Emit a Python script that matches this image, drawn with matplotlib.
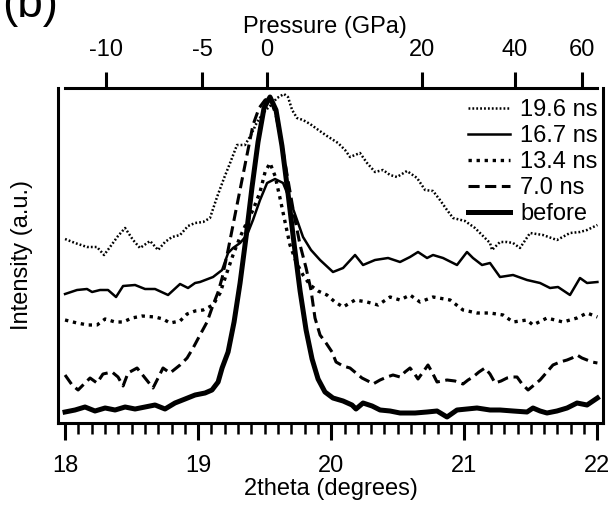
import matplotlib
matplotlib.use("Agg")
import matplotlib.pyplot as plt
from matplotlib.ticker import MultipleLocator, FixedLocator, NullLocator

plt.rcParams['font.family'] = ['Liberation Sans', 'DejaVu Sans']
plt.rcParams['font.size'] = 17
plt.rcParams['lines.scale_dashes'] = False

# ---- data (2theta in degrees, intensity in arbitrary units) ----
tt_before = [18.000, 18.075, 18.150, 18.225, 18.301, 18.376, 18.451, 18.526, 18.601, 18.676,
             18.751, 18.826, 18.902, 18.977, 19.052, 19.104, 19.150, 19.180, 19.225, 19.270,
             19.315, 19.360, 19.405, 19.450, 19.495, 19.540, 19.585, 19.630, 19.675, 19.721,
             19.766, 19.811, 19.856, 19.901, 19.953, 20.013, 20.089, 20.156, 20.186, 20.239,
             20.307, 20.367, 20.442, 20.517, 20.630, 20.720, 20.795, 20.870, 20.945, 21.020,
             21.095, 21.193, 21.268, 21.366, 21.471, 21.516, 21.569, 21.621, 21.696, 21.772,
             21.847, 21.922, 22.000]
int_before = [11, 13, 16, 12, 15, 13, 16, 14, 16, 18,
              14, 20, 24, 28, 30, 33, 41, 55, 71, 101,
              140, 186, 236, 281, 315, 326, 313, 277, 230, 179,
              132, 93, 64, 44, 31, 25, 22, 18, 14, 20,
              17, 13, 12, 10, 10, 11, 12, 6, 13, 14,
              15, 13, 13, 12, 11, 15, 12, 10, 12, 15,
              20, 18, 25]

tt_7ns = [18.000, 18.053, 18.098, 18.150, 18.188, 18.240, 18.285, 18.353, 18.398, 18.436,
          18.473, 18.541, 18.601, 18.661, 18.699, 18.736, 18.789, 18.864, 18.917, 18.962,
          19.014, 19.067, 19.112, 19.150, 19.180, 19.225, 19.277, 19.322, 19.367, 19.412,
          19.458, 19.503, 19.540, 19.585, 19.630, 19.675, 19.721, 19.766, 19.811, 19.848,
          19.878, 19.916, 19.961, 20.006, 20.036, 20.089, 20.141, 20.186, 20.231, 20.276,
          20.314, 20.367, 20.419, 20.464, 20.517, 20.554, 20.592, 20.622, 20.652, 20.690,
          20.727, 20.757, 20.795, 20.832, 20.870, 20.930, 20.990, 21.028, 21.065, 21.110,
          21.155, 21.193, 21.231, 21.276, 21.321, 21.358, 21.396, 21.434, 21.479, 21.524,
          21.569, 21.621, 21.666, 21.719, 21.772, 21.809, 21.847, 21.884, 21.922, 21.959,
          22.000]
int_7ns = [48, 38, 33, 40, 45, 40, 49, 51, 46, 37,
           50, 55, 45, 35, 45, 55, 50, 58, 65, 75,
           88, 101, 118, 131, 145, 173, 208, 238, 268, 298,
           315, 323, 325, 308, 278, 243, 208, 178, 155, 133,
           105, 88, 80, 71, 61, 57, 55, 50, 45, 42,
           39, 43, 46, 48, 46, 51, 55, 50, 44, 51,
           58, 51, 41, 42, 43, 42, 39, 43, 46, 51,
           55, 49, 40, 42, 45, 46, 46, 39, 33, 38,
           43, 51, 58, 61, 63, 65, 68, 65, 63, 61,
           60]

tt_13ns = [18.000, 18.090, 18.173, 18.240, 18.301, 18.376, 18.436, 18.503, 18.579, 18.676,
           18.736, 18.789, 18.864, 18.917, 18.977, 19.037, 19.112, 19.165, 19.210, 19.262,
           19.315, 19.367, 19.412, 19.465, 19.503, 19.540, 19.578, 19.615, 19.653, 19.690,
           19.736, 19.788, 19.841, 19.901, 19.968, 20.028, 20.089, 20.179, 20.269, 20.352,
           20.442, 20.517, 20.592, 20.667, 20.765, 20.893, 20.990, 21.095, 21.193, 21.291,
           21.366, 21.471, 21.516, 21.621, 21.741, 21.847, 21.922, 22.000]
int_13ns = [103, 100, 98, 98, 104, 101, 101, 105, 107, 106,
            104, 100, 102, 109, 112, 113, 118, 130, 148, 168,
            186, 201, 213, 231, 251, 260, 247, 225, 201, 178,
            161, 148, 138, 132, 128, 121, 116, 123, 121, 118,
            126, 123, 128, 121, 126, 123, 113, 110, 110, 108,
            101, 103, 98, 105, 101, 105, 110, 106]

tt_16ns = [18.000, 18.090, 18.165, 18.203, 18.263, 18.323, 18.383, 18.436, 18.526, 18.601,
           18.676, 18.774, 18.864, 18.924, 18.977, 19.014, 19.112, 19.180, 19.225, 19.262,
           19.315, 19.367, 19.412, 19.465, 19.518, 19.578, 19.638, 19.690, 19.743, 19.788,
           19.848, 19.916, 20.013, 20.089, 20.179, 20.239, 20.329, 20.427, 20.517, 20.592,
           20.652, 20.720, 20.765, 20.840, 20.945, 21.020, 21.065, 21.133, 21.193, 21.268,
           21.366, 21.471, 21.569, 21.644, 21.704, 21.794, 21.869, 21.922, 22.000]
int_16ns = [129, 133, 134, 131, 133, 133, 126, 137, 138, 134,
            134, 128, 139, 135, 140, 141, 146, 153, 170, 175,
            180, 188, 203, 223, 240, 244, 240, 223, 203, 186,
            173, 163, 151, 155, 168, 158, 163, 165, 161, 166,
            171, 165, 168, 165, 158, 171, 165, 158, 160, 146,
            148, 143, 140, 135, 136, 128, 145, 140, 141]

tt_19ns = [18.000, 18.075, 18.165, 18.240, 18.293, 18.338, 18.398, 18.451, 18.511, 18.563,
           18.639, 18.699, 18.751, 18.804, 18.864, 18.924, 18.977, 19.037, 19.089, 19.142,
           19.195, 19.240, 19.292, 19.352, 19.397, 19.443, 19.495, 19.540, 19.593, 19.645,
           19.675, 19.706, 19.743, 19.788, 19.841, 19.893, 19.968, 20.051, 20.104, 20.141,
           20.216, 20.269, 20.329, 20.389, 20.442, 20.494, 20.569, 20.645, 20.705, 20.765,
           20.817, 20.870, 20.915, 21.005, 21.080, 21.133, 21.193, 21.208, 21.268, 21.321,
           21.366, 21.418, 21.494, 21.591, 21.696, 21.794, 21.869, 21.922, 22.000]
int_19ns = [184, 180, 176, 176, 168, 176, 187, 195, 183, 175,
            182, 173, 181, 186, 188, 197, 200, 201, 205, 226,
            245, 260, 278, 278, 288, 301, 311, 317, 325, 329,
            326, 313, 305, 303, 299, 294, 287, 280, 273, 266,
            270, 260, 251, 253, 248, 246, 252, 245, 233, 232,
            223, 213, 205, 202, 195, 188, 180, 173, 181, 181,
            180, 175, 190, 188, 183, 190, 191, 193, 198]

series_labels = ['19.6 ns', '16.7 ns', '13.4 ns', '7.0 ns', 'before']

xticks_major = [18, 19, 20, 21, 22]
pressure_ticks = ['-10', '-5', '0', '20', '40', '60']
pressure_tick_2theta = [18.308, 19.029, 19.518, 20.682, 21.381, 21.884]

# ---- figure ----
fig = plt.figure(figsize=(6.14, 5.11), dpi=100)
ax = fig.add_axes([58/614, 1-423/511, 545/614, 335/511])

ln19, = ax.plot(tt_19ns, int_19ns, color='black', lw=1.8, dashes=(1.3, 1.5), label=series_labels[0])
ln16, = ax.plot(tt_16ns, int_16ns, color='black', lw=1.8, label=series_labels[1])
ln13, = ax.plot(tt_13ns, int_13ns, color='black', lw=2.4, dashes=(2.4, 3.4), label=series_labels[2])
ln7, = ax.plot(tt_7ns, int_7ns, color='black', lw=2.2, dashes=(8, 4), label=series_labels[3])
lnb, = ax.plot(tt_before, int_before, color='black', lw=3.6, label=series_labels[4])

ax.set_xlim(17.947, 22.042)
ax.set_ylim(0, 335)

for s in ['left', 'right', 'bottom']:
    ax.spines[s].set_linewidth(2.2)
ax.spines['top'].set_visible(False)

ax.set_yticks([])
ax.xaxis.set_major_locator(FixedLocator(xticks_major))
ax.xaxis.set_minor_locator(MultipleLocator(0.1))
ax.tick_params(axis='x', which='major', direction='out', length=12, width=2.2, pad=11)
ax.tick_params(axis='x', which='minor', direction='out', length=8, width=1.8)
ax.set_xticklabels([str(v) for v in xticks_major])

ax.set_xlabel('2theta (degrees)')
ax.xaxis.set_label_coords(0.5, -0.163)
ax.set_ylabel('Intensity (a.u.)')
ax.yaxis.set_label_coords(-0.066, 0.5)
ax.yaxis.label.set_va('center')

# top pressure axis
ax2 = ax.twiny()
ax2.set_xlim(ax.get_xlim())
for s in ['left', 'right', 'bottom']:
    ax2.spines[s].set_visible(False)
ax2.spines['top'].set_linewidth(2.2)
ax2.spines['top'].set_bounds(18.0, 22.0)
ax2.xaxis.set_major_locator(FixedLocator(pressure_tick_2theta))
ax2.xaxis.set_minor_locator(NullLocator())
ax2.set_xticklabels(pressure_ticks)
ax2.tick_params(axis='x', which='major', direction='out', length=11.5, width=2.2, pad=8)
ax2.set_xlabel('Pressure (GPa)')
ax2.xaxis.set_label_coords(0.49, 1.165)

leg = ax.legend(handles=[ln19, ln16, ln13, ln7, lnb], loc='upper right',
                bbox_to_anchor=(1 - 5/545, 1 - 11/335), frameon=False,
                handlelength=1.78, handletextpad=0.42, labelspacing=0.17,
                borderpad=0, borderaxespad=0)

fig.text(0.003, 1 - 17/511, '(b)', fontsize=33, va='baseline', ha='left')

fig.savefig('out.png', dpi=100)
